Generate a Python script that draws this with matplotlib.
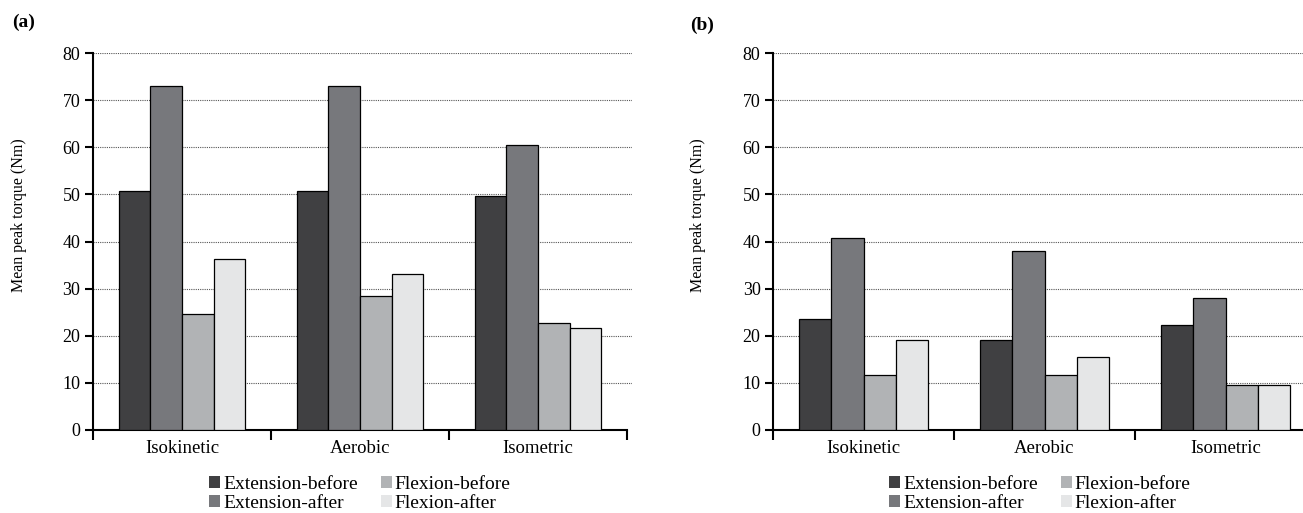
import numpy as np
import matplotlib
matplotlib.use('Agg')
import matplotlib.pyplot as plt

plt.rcParams['font.family'] = ['Liberation Serif', 'DejaVu Serif']

categories = ['Isokinetic', 'Aerobic', 'Isometric']
series = ['Extension-before', 'Extension-after', 'Flexion-before', 'Flexion-after']
colors = ['#404042', '#77787c', '#b1b3b5', '#e5e6e7']

# panel (a)
a_ext_before = [50.7, 50.7, 49.7]
a_ext_after = [73.1, 73.1, 60.4]
a_flex_before = [24.6, 28.5, 22.7]
a_flex_after = [36.2, 33.0, 21.6]

# panel (b)
b_ext_before = [23.5, 19.1, 22.2]
b_ext_after = [40.7, 38.0, 28.1]
b_flex_before = [11.6, 11.6, 9.6]
b_flex_after = [19.2, 15.4, 9.6]

yticks = [0, 10, 20, 30, 40, 50, 60, 70, 80]

fig = plt.figure(figsize=(13.03, 5.13), dpi=100)
bot = 1 - 430 / 513
top = 1 - 53 / 513
ax_a = fig.add_axes([93 / 1303, bot, (632 - 93) / 1303, top - bot])
ax_b = fig.add_axes([773 / 1303, bot, (1303 - 773) / 1303, top - bot])


def draw(ax, data, xmax, edge_ticks, label_x):
    x = np.arange(len(categories)) + 0.5
    w = 0.178
    for i, vals in enumerate(data):
        ax.bar(x + (i - 1.5) * w, vals, w, color=colors[i], edgecolor='black',
               linewidth=0.9, label=series[i], zorder=3)
    ax.set_xlim(0, xmax)
    ax.set_ylim(0, 80)
    ax.set_yticks(yticks)
    ax.set_xticks(edge_ticks)
    ax.set_xticklabels([])
    ax.set_xticks(x, minor=True)
    ax.set_xticklabels(categories, minor=True, fontsize=13.5)
    ax.tick_params(axis='x', which='minor', length=0, pad=7)
    ax.tick_params(axis='x', which='major', length=7, width=1.5, direction='out')
    ax.tick_params(axis='y', length=6, width=1.5, direction='out', labelsize=13, pad=3)
    for s in ['top', 'right']:
        ax.spines[s].set_visible(False)
    ax.spines['left'].set_linewidth(1.5)
    ax.spines['bottom'].set_linewidth(1.5)
    ax.spines['bottom'].set_bounds(0, min(3, xmax))
    for yv in yticks[1:]:
        ax.axhline(yv, color='#555555', linestyle=(0, (1, 1)), linewidth=0.8, zorder=1)
    ax.set_ylabel('Mean peak torque (Nm)', fontsize=11.5)
    ax.yaxis.set_label_coords(label_x, 0.57)


draw(ax_a, [a_ext_before, a_ext_after, a_flex_before, a_flex_after],
     (632 - 93) / 178, [0, 1, 2, 3], (27 - 93) / 539)
draw(ax_b, [b_ext_before, b_ext_after, b_flex_before, b_flex_after],
     (1303 - 773) / 181, [0, 1, 2], (706 - 773) / 530)

for ax, cx in [(ax_a, 360 / 1303), (ax_b, 1040 / 1303)]:
    h, l = ax.get_legend_handles_labels()
    fig.legend(h, l, ncol=2,
               loc='upper center', bbox_to_anchor=(cx, 1 - 466 / 513),
               frameon=False, fontsize=14, handlelength=0.55, handleheight=0.55,
               handletextpad=0.15, columnspacing=1.2, labelspacing=0.1,
               borderpad=0)

for lg in fig.legends:
    for p in lg.legend_handles:
        p.set_edgecolor('none')

fig.text(12 / 1303, 1 - 22 / 513, '(a)', fontsize=14, fontweight='bold', va='center')
fig.text(690 / 1303, 1 - 25 / 513, '(b)', fontsize=14, fontweight='bold', va='center')

plt.savefig('out.png', dpi=100)
